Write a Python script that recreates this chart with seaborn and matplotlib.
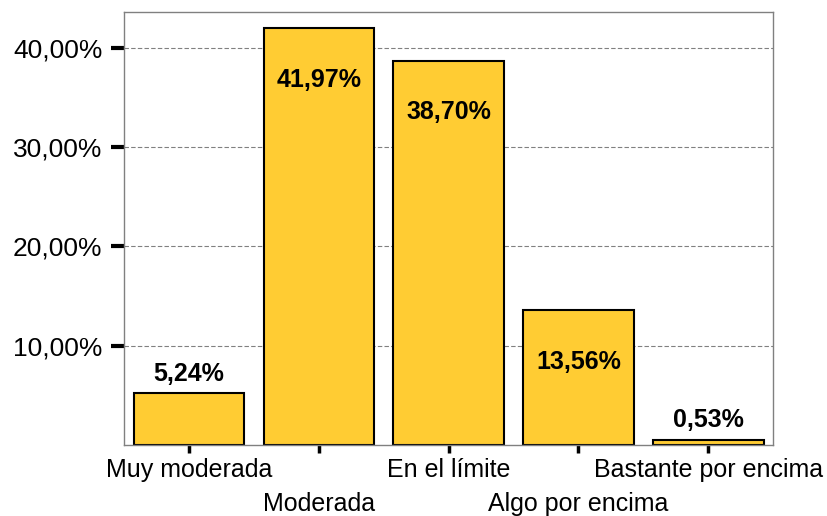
import matplotlib
matplotlib.use('Agg')
import matplotlib.pyplot as plt
import seaborn as sns
import pandas as pd
from matplotlib.ticker import FuncFormatter

categories = ['Muy moderada', 'Moderada', 'En el límite', 'Algo por encima', 'Bastante por encima']
percentages = [5.24, 41.97, 38.70, 13.56, 0.53]

sns.set_style('white')
plt.rcParams['font.family'] = ['Liberation Sans', 'DejaVu Sans']
plt.rcParams['text.color'] = 'black'
plt.rcParams['xtick.color'] = 'black'
plt.rcParams['ytick.color'] = 'black'

df = pd.DataFrame({'categoria': categories, 'porcentaje': percentages})

fig = plt.figure(figsize=(8.27, 5.16), dpi=100)
ax = fig.add_axes([0.150, 0.1376, 0.785, 0.839])

# dashed grid behind bars
ax.set_axisbelow(True)
ax.yaxis.grid(True, linestyle=(0, (4, 2)), color='#808080', linewidth=0.8)

sns.barplot(data=df, x='categoria', y='porcentaje', color='#FFCC33',
            edgecolor='black', linewidth=1.5, width=0.85, saturation=1, ax=ax)

ax.set_xlim(-0.5, 4.5)
ax.set_ylim(0, 43.6)
ax.set_yticks([10, 20, 30, 40])
ax.yaxis.set_major_formatter(FuncFormatter(lambda v, p: f'{v:.2f}%'.replace('.', ',')))
ax.set_xlabel('')
ax.set_ylabel('')
ax.set_xticks(range(len(categories)))
ax.set_xticklabels(categories)

ax.tick_params(axis='y', labelsize=19, length=9.5, width=3, pad=6,
               direction='out', left=True, labelcolor='black')
ax.tick_params(axis='x', labelsize=18, length=5.5, width=2.5, pad=4,
               direction='out', bottom=True, labelcolor='black')

# staggered category labels: every second one goes one row lower
for i, t in enumerate(ax.xaxis.get_major_ticks()):
    if i % 2 == 1:
        t.set_pad(28)

for side in ['left', 'right', 'top', 'bottom']:
    ax.spines[side].set_color('#808080')
    ax.spines[side].set_linewidth(1)

# value labels
for i, v in enumerate(percentages):
    txt = f'{v:.2f}%'.replace('.', ',')
    off = -37 if v > 10 else 14
    ax.annotate(txt, (i, v), xytext=(0, off), textcoords='offset points',
                ha='center', va='center', fontsize=18, fontweight='bold', color='black')

fig.savefig('out.png', dpi=100)
